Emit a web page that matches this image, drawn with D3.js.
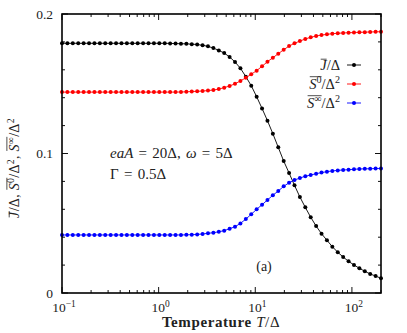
<!DOCTYPE html>
<html>
<head>
<meta charset="utf-8">
<script src="https://cdn.jsdelivr.net/npm/d3@7"></script>
<style>
    body { margin: 0; background: #fff; }
    text { font-family: "Liberation Serif", "DejaVu Serif", serif; fill: #222; }
</style>
</head>
<body>
<svg id="chart" width="407" height="333"></svg>
<script>

// Temperature grid T/Delta (log spaced)
const temperature = [
    0.1, 0.1137, 0.1293, 0.1472, 0.1674, 0.1905, 0.2166, 0.2464, 0.2803, 0.3188,
    0.3627, 0.4125, 0.4693, 0.5338, 0.6072, 0.6907, 0.7857, 0.8937, 1.0165, 1.1563,
    1.3152, 1.4961, 1.7018, 1.9358, 2.202, 2.5048, 2.8491, 3.2409, 3.6865, 4.1934,
    4.77, 5.4259, 6.172, 7.0206, 7.9859, 9.084, 10.332, 11.753, 13.369, 15.207,
    17.298, 19.677, 22.383, 25.46, 28.961, 32.943, 37.473, 42.625, 48.486, 55.153,
    62.737, 71.363, 81.176, 92.338, 105.03, 119.48, 135.9, 154.59, 175.85, 200
];

// J / Delta (black)
const currentJ = [
    0.179, 0.179, 0.179, 0.179, 0.179, 0.179, 0.179, 0.179, 0.179, 0.179,
    0.179, 0.179, 0.179, 0.179, 0.179, 0.179, 0.179, 0.179, 0.179, 0.179,
    0.1789, 0.1788, 0.1787, 0.1786, 0.1784, 0.1781, 0.1776, 0.1768, 0.1756, 0.1739,
    0.172, 0.1692, 0.1656, 0.1611, 0.1551, 0.1486, 0.1407, 0.1323, 0.1235, 0.1142,
    0.1044, 0.0946, 0.086, 0.0772, 0.0688, 0.0614, 0.0543, 0.048, 0.0425, 0.0378,
    0.0332, 0.0292, 0.0258, 0.0227, 0.0201, 0.0177, 0.0156, 0.0136, 0.0122, 0.0105
];

// S^0 / Delta^2 (red)
const noiseZero = [
    0.144, 0.144, 0.144, 0.144, 0.144, 0.144, 0.144, 0.144, 0.144, 0.144,
    0.144, 0.144, 0.144, 0.144, 0.144, 0.144, 0.144, 0.144, 0.144, 0.144,
    0.144, 0.144, 0.1441, 0.1442, 0.1444, 0.1446, 0.1448, 0.1451, 0.1455, 0.1462,
    0.1472, 0.1484, 0.15, 0.152, 0.1543, 0.1568, 0.1594, 0.1625, 0.1658, 0.1687,
    0.1715, 0.1744, 0.177, 0.179, 0.1806, 0.1821, 0.1833, 0.1842, 0.1849, 0.1854,
    0.1859, 0.1862, 0.1864, 0.1866, 0.1867, 0.1869, 0.187, 0.1871, 0.1872, 0.1873
];

// S^inf / Delta^2 (blue)
const noiseInf = [
    0.0416, 0.0416, 0.0416, 0.0416, 0.0416, 0.0416, 0.0416, 0.0416, 0.0416, 0.0416,
    0.0416, 0.0416, 0.0416, 0.0416, 0.0416, 0.0416, 0.0416, 0.0416, 0.0416, 0.0416,
    0.0416, 0.0416, 0.0416, 0.0417, 0.0418, 0.042, 0.0423, 0.0428, 0.0432, 0.0439,
    0.0447, 0.0461, 0.0475, 0.0499, 0.053, 0.0564, 0.06, 0.0633, 0.0667, 0.0701,
    0.0731, 0.0765, 0.079, 0.081, 0.0824, 0.0837, 0.0846, 0.0855, 0.0863, 0.087,
    0.0875, 0.0879, 0.0882, 0.0884, 0.0887, 0.0889, 0.089, 0.0891, 0.0892, 0.0893
];

const yMajorTicks = [0, 0.1, 0.2];
const yTickLabels = ["0", "0.1", "0.2"];
const yMinorTicks = [0.02, 0.04, 0.06, 0.08, 0.12, 0.14, 0.16, 0.18];
const xMajorTicks = [0.1, 1, 10, 100];
const xTickExponents = ["\u22121", "0", "1", "2"];

// Layout
const width = 407, height = 333;
const margin = { left: 62, right: 26, top: 14, bottom: 40 };
const svg = d3.select("#chart");

const x = d3.scaleLog()
    .domain([0.1, 200])
    .range([margin.left, width - margin.right]);
const y = d3.scaleLinear()
    .domain([0, 0.2])
    .range([height - margin.bottom, margin.top]);

//
// Rich text helper: segments with italic / bold / superscript / overline.
//
function richText(parent, segs, attrs, fs) {
    const t = parent.append("text").attr("font-size", fs);
    Object.entries(attrs).forEach(([k, v]) => t.attr(k, v));
    const raise = fs * 0.38;
    let up = false;
    let idx = 0;
    const overs = [];
    segs.forEach(s => {
        const ts = t.append("tspan").text(s.t);
        if (s.i) ts.attr("font-style", "italic");
        if (s.b) ts.attr("font-weight", "bold");
        if (s.sup) ts.attr("font-size", fs * 0.7);
        if (s.sup && !up) { ts.attr("dy", -raise); up = true; }
        else if (!s.sup && up) { ts.attr("dy", raise); up = false; }
        if (s.o !== undefined) {
            if (!overs[s.o]) overs[s.o] = { a: idx, b: idx + s.t.length - 1 };
            else overs[s.o].b = idx + s.t.length - 1;
        }
        idx += s.t.length;
    });
    // Overlines drawn in the same coordinate frame as the text.
    const node = t.node();
    overs.forEach(r => {
        if (!r) return;
        let top = Infinity;
        for (let k = r.a; k <= r.b; k++) top = Math.min(top, node.getExtentOfChar(k).y);
        const e1 = node.getExtentOfChar(r.a);
        const e2 = node.getExtentOfChar(r.b);
        parent.append("line")
            .attr("x1", e1.x + 0.5).attr("x2", e2.x + e2.width)
            .attr("y1", top + 2.2).attr("y2", top + 2.2)
            .attr("stroke", "#222").attr("stroke-width", 0.8);
    });
    return t;
}

// Ticks (inward, on all four sides)
const ticks = svg.append("g").attr("stroke", "#111").attr("stroke-width", 1);
x.ticks().forEach(v => {
    const len = xMajorTicks.includes(v) ? 6 : 3;
    ticks.append("line").attr("x1", x(v)).attr("x2", x(v))
        .attr("y1", y(0)).attr("y2", y(0) - len);
    ticks.append("line").attr("x1", x(v)).attr("x2", x(v))
        .attr("y1", y(0.2)).attr("y2", y(0.2) + len);
});
yMajorTicks.concat(yMinorTicks).forEach(v => {
    const len = yMajorTicks.includes(v) ? 6 : 3;
    ticks.append("line").attr("x1", x.range()[0]).attr("x2", x.range()[0] + len)
        .attr("y1", y(v)).attr("y2", y(v));
    ticks.append("line").attr("x1", x.range()[1]).attr("x2", x.range()[1] - len)
        .attr("y1", y(v)).attr("y2", y(v));
});

// Tick labels
yMajorTicks.forEach((v, i) => {
    svg.append("text")
        .attr("x", margin.left - 9).attr("y", y(v) + 4.5)
        .attr("text-anchor", "end").attr("font-size", 13.5)
        .text(yTickLabels[i]);
});
xMajorTicks.forEach((v, i) => {
    richText(svg, [{ t: "10" }, { t: xTickExponents[i], sup: true }],
        { x: x(v) + 2, y: height - margin.bottom + 19, "text-anchor": "middle" }, 13.5);
});

// Series
const series = [
    { values: currentJ, color: "#000" },
    { values: noiseZero, color: "#f00" },
    { values: noiseInf, color: "#00f" }
];
const line = d3.line()
    .x(d => x(d[0]))
    .y(d => y(d[1]));

const plot = svg.append("g");
series.forEach(s => {
    const pts = temperature.map((t, i) => [t, s.values[i]]);
    plot.append("path")
        .attr("d", line(pts))
        .attr("fill", "none")
        .attr("stroke", s.color)
        .attr("stroke-width", 0.9);
    plot.selectAll(null)
        .data(pts)
        .join("circle")
            .attr("cx", d => x(d[0]))
            .attr("cy", d => y(d[1]))
            .attr("r", 2)
            .attr("fill", s.color);
});

// Frame
svg.append("rect")
    .attr("x", x.range()[0]).attr("y", y.range()[1])
    .attr("width", x.range()[1] - x.range()[0])
    .attr("height", y.range()[0] - y.range()[1])
    .attr("fill", "none").attr("stroke", "#000").attr("stroke-width", 1.6);

// Legend
const legendRows = [
    [{ t: "J", i: true, o: 0 }, { t: "/\u0394" }],
    [{ t: "S", i: true, o: 0 }, { t: "0", sup: true, o: 0 }, { t: "/\u0394" }, { t: "2", sup: true }],
    [{ t: "S", i: true, o: 0 }, { t: "\u221e", sup: true, o: 0 }, { t: "/\u0394" }, { t: "2", sup: true }]
];
const legend = svg.append("g");
legendRows.forEach((segs, i) => {
    const ly = 65 + i * 19;
    richText(legend, segs, { x: 340, y: ly + 5, "text-anchor": "end" }, 14.5);
    legend.append("line")
        .attr("x1", 347).attr("x2", 361).attr("y1", ly).attr("y2", ly)
        .attr("stroke", series[i].color)
        .attr("stroke-width", 0.9);
    legend.append("circle").attr("cx", 354).attr("cy", ly).attr("r", 2)
        .attr("fill", series[i].color);
});

// Annotation
richText(svg, [
    { t: "eaA", i: true }, { t: " = 20\u0394, " }, { t: "\u03c9", i: true }, { t: " = 5\u0394" }
], { x: 110, y: 158, "word-spacing": 1.5 }, 15);
richText(svg, [{ t: "\u0393 = 0.5\u0394" }], { x: 110, y: 179, "word-spacing": 1.5 }, 15);
svg.append("text").attr("x", 264).attr("y", 271)
    .attr("text-anchor", "middle").attr("font-size", 14).text("(a)");

// Axis titles
richText(svg, [
    { t: "Temperature ", b: true }, { t: "T", i: true }, { t: "/\u0394" }
], { x: 221, y: 327, "text-anchor": "middle", "letter-spacing": 0.6 }, 15);

const yTitle = svg.append("g").attr("transform", "translate(19,168) rotate(-90)");
richText(yTitle, [
    { t: "J", i: true, o: 0 }, { t: "/\u0394, " },
    { t: "S", i: true, o: 1 }, { t: "0", sup: true, o: 1 }, { t: "/\u0394" }, { t: "2", sup: true },
    { t: ", " },
    { t: "S", i: true, o: 2 }, { t: "\u221e", sup: true, o: 2 }, { t: "/\u0394" }, { t: "2", sup: true }
], { x: 0, y: 0, "text-anchor": "middle", "letter-spacing": 0.3 }, 14);

</script>
</body>
</html>
